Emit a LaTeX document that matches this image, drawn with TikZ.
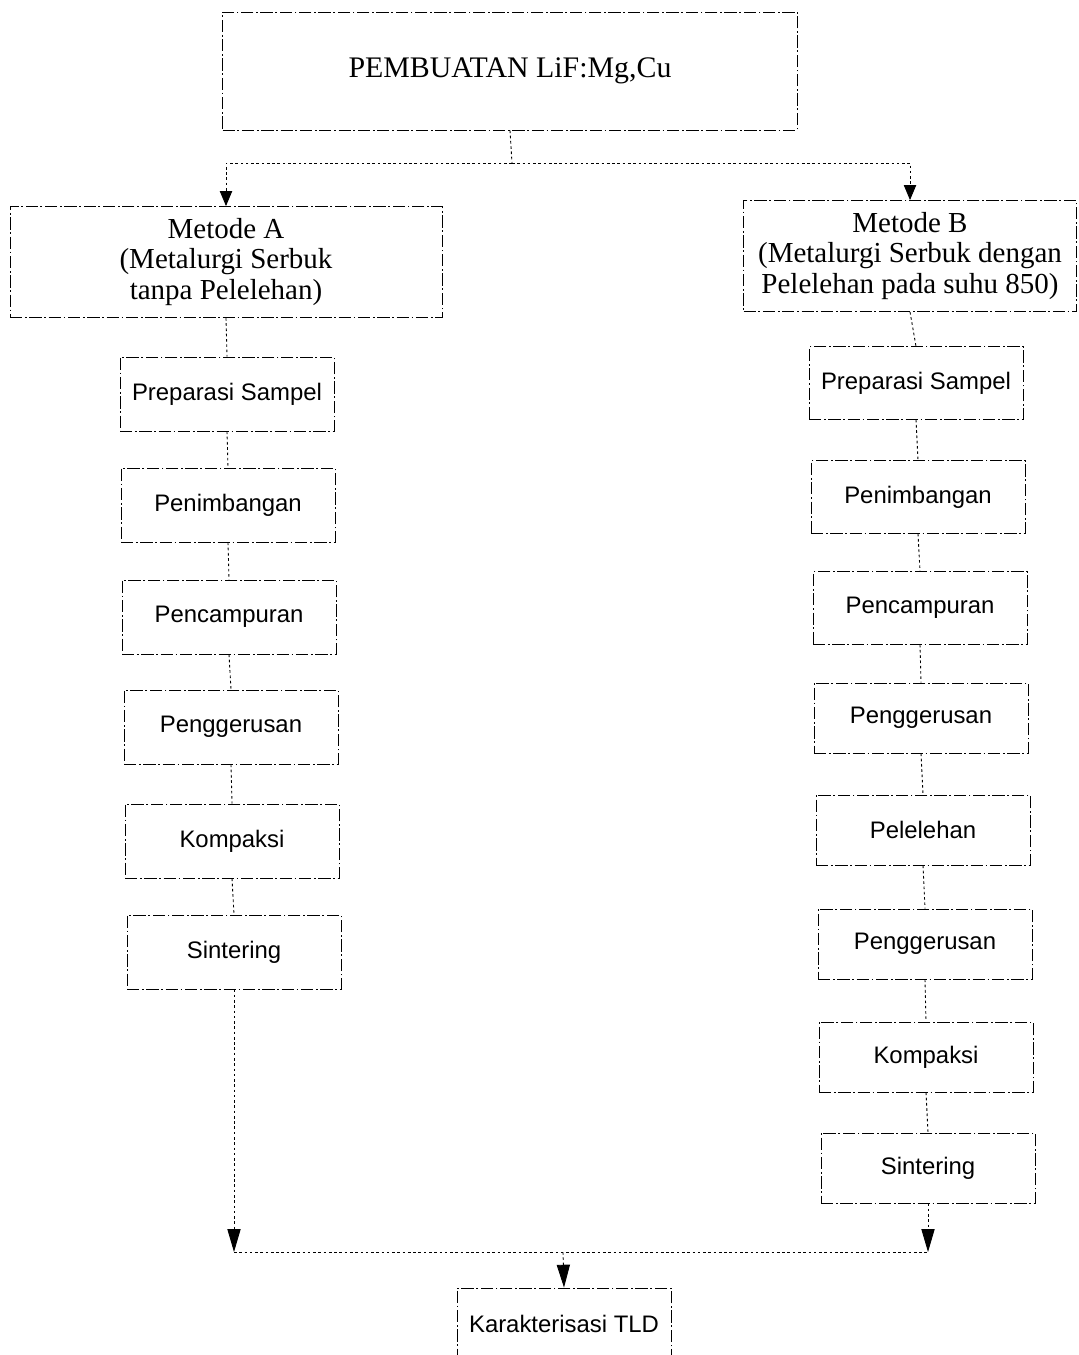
\documentclass[tikz,border=0pt]{standalone}
\usepackage{fontspec}
\setmainfont{Liberation Serif}
\newfontfamily\arialfont{Liberation Sans}
\usetikzlibrary{arrows.meta,positioning}

\begin{document}
\begin{tikzpicture}[x=0.02cm,y=-0.02cm,
    box/.style={draw,line width=0.5pt,dash pattern=on 7pt off 1.5pt on 1pt off 1.5pt,inner sep=1pt,align=center},
    stepbox/.style={box,minimum width=4.28cm,minimum height=1.48cm,font=\arialfont\fontsize{13.6}{16}\selectfont},
    metbox/.style={box,minimum height=2.22cm,font=\fontsize{16.5}{17.6}\selectfont},
    link/.style={line width=0.5pt,dash pattern=on 1.5pt off 1.5pt},
    tip/.style={-{Triangle[width=7pt,length=8.5pt]}},
    bigtip/.style={-{Triangle[width=7.5pt,length=13pt]}}]
  \useasboundingbox (0,0) rectangle (1078,1355);
  \node[box,minimum width=11.5cm,minimum height=2.36cm,font=\fontsize{17}{20}\selectfont] (top) at (510,71) {PEMBUATAN LiF:Mg,Cu};
  \node[metbox,minimum width=8.64cm] (ma) at (226,262) {Metode A\\(Metalurgi Serbuk\\tanpa Pelelehan)};
  \node[metbox,minimum width=6.66cm] (mb) at (910,256) {Metode B\\(Metalurgi Serbuk dengan\\Pelelehan pada suhu 850)};
  % metode A
  \node[stepbox] (a1) at (227,394) {Preparasi Sampel};
  \node[stepbox] (a2) at (228,505) {Penimbangan};
  \node[stepbox] (a3) at (229,617) {Pencampuran};
  \node[stepbox] (a4) at (231,727) {Penggerusan};
  \node[stepbox] (a5) at (232,841) {Kompaksi};
  \node[stepbox] (a6) at (234,952) {Sintering};
  % metode B
  \node[stepbox,minimum height=1.45cm] (b1) at (916,383) {Preparasi Sampel};
  \node[stepbox,minimum height=1.45cm] (b2) at (918,497) {Penimbangan};
  \node[stepbox,minimum height=1.45cm] (b3) at (920,608) {Pencampuran};
  \node[stepbox,minimum height=1.4cm] (b4) at (921,718) {Penggerusan};
  \node[stepbox,minimum height=1.4cm] (b5) at (923,830) {Pelelehan};
  \node[stepbox,minimum height=1.4cm] (b6) at (925,944) {Penggerusan};
  \node[stepbox,minimum height=1.4cm] (b7) at (926,1057) {Kompaksi};
  \node[stepbox,minimum height=1.4cm] (b8) at (928,1168) {Sintering};
  \node[stepbox,minimum height=1.44cm] (tld) at (564,1324) {Karakterisasi TLD};
  % split
  \coordinate (j) at (512,163);
  \draw[link] (top.south) -- (j);
  \draw[link,tip] (j) -| (ma.north);
  \draw[link,tip] (j) -| (mb.north);
  \draw[link] (ma.south) -- (a1.north);
  \draw[link] (a1.south) -- (a2.north);
  \draw[link] (a2.south) -- (a3.north);
  \draw[link] (a3.south) -- (a4.north);
  \draw[link] (a4.south) -- (a5.north);
  \draw[link] (a5.south) -- (a6.north);
  \draw[link] (mb.south) -- (b1.north);
  \draw[link] (b1.south) -- (b2.north);
  \draw[link] (b2.south) -- (b3.north);
  \draw[link] (b3.south) -- (b4.north);
  \draw[link] (b4.south) -- (b5.north);
  \draw[link] (b5.south) -- (b6.north);
  \draw[link] (b6.south) -- (b7.north);
  \draw[link] (b7.south) -- (b8.north);
  % join
  \coordinate (k) at (563,1252);
  \draw[link,bigtip] (a6.south) -- (a6.south |- k);
  \draw[link] (a6.south |- k) -- (b8.south |- k);
  \draw[link,bigtip] (b8.south) -- (b8.south |- k);
  \draw[link,bigtip] (k) -- (tld.north);
\end{tikzpicture}
\end{document}
